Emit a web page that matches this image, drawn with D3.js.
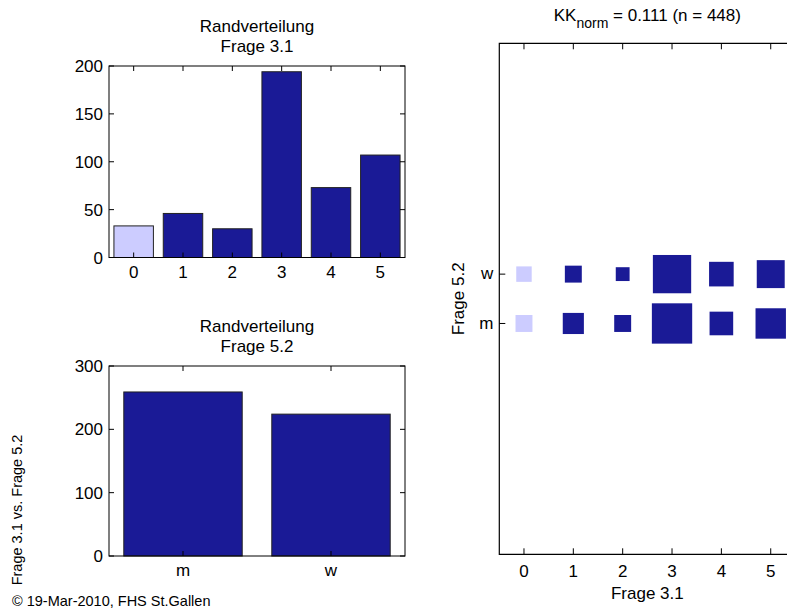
<!DOCTYPE html>
<html>
<head>
<meta charset="utf-8">
<script src="https://cdn.jsdelivr.net/npm/d3@7"></script>
<style>
  html, body { margin: 0; padding: 0; background: #fff; }
  svg { display: block; font-family: "Liberation Sans", Arial, Helvetica, sans-serif; }
</style>
</head>
<body>
<svg id="chart" width="787" height="609"></svg>
<script>
// Frage 3.1 marginal distribution
const q31Cats = ["0", "1", "2", "3", "4", "5"];
const q31Counts = [33, 46, 30, 194, 73, 107];
const q31Ticks = [0, 50, 100, 150, 200];

// Frage 5.2 marginal distribution
const q52Cats = ["m", "w"];
const q52Counts = [259, 224];
const q52Ticks = [0, 100, 200, 300];

// Cross table Frage 3.1 (columns) x Frage 5.2 (rows m, w)
const crossM = [18, 28, 18, 102, 35, 58];
const crossW = [15, 18, 12, 92, 38, 49];

// Category 0 is the missing-answer class, drawn in a light tint
const missingCats = ["0"];

const titleQ31 = ["Randverteilung", "Frage 3.1"];
const titleQ52 = ["Randverteilung", "Frage 5.2"];
const kkValue = "0.111";
const nValue = 448;
const footer = "\u00A9 19-Mar-2010, FHS St.Gallen";
const sideLabel = "Frage 3.1 vs. Frage 5.2";

const DARK = "#1a1a96";
const LIGHT = "#ccccff";
const FS = 17;

const svg = d3.select("#chart");

function boxAxes(g, x, y, xTickVals, yTickVals, xFmt, tick) {
  const [x0, x1] = x.range();
  const [y0, y1] = y.range(); // y0 bottom, y1 top
  g.append("rect")
    .attr("x", x0).attr("y", y1).attr("width", x1 - x0).attr("height", y0 - y1)
    .attr("fill", "none").attr("stroke", "#000").attr("stroke-width", 1);
  // inward ticks on all four sides
  xTickVals.forEach(v => {
    const px = x(v);
    g.append("line").attr("x1", px).attr("x2", px).attr("y1", y0).attr("y2", y0 - tick).attr("stroke", "#000");
    g.append("line").attr("x1", px).attr("x2", px).attr("y1", y1).attr("y2", y1 + tick).attr("stroke", "#000");
  });
  yTickVals.forEach(v => {
    const py = y(v);
    g.append("line").attr("x1", x0).attr("x2", x0 + tick).attr("y1", py).attr("y2", py).attr("stroke", "#000");
    g.append("line").attr("x1", x1).attr("x2", x1 - tick).attr("y1", py).attr("y2", py).attr("stroke", "#000");
  });
  g.selectAll(".ylab").data(yTickVals).join("text")
    .attr("x", x0 - 6).attr("y", d => y(d)).attr("dy", "0.36em")
    .attr("text-anchor", "end").attr("font-size", FS).text(d => d);
  g.selectAll(".xlab").data(xTickVals).join("text")
    .attr("x", d => x(d)).attr("y", y0 + 20)
    .attr("text-anchor", "middle").attr("font-size", FS).text(xFmt);
}

function barPanel(top, bottom, cats, counts, ticks, title) {
  const g = svg.append("g");
  const idx = cats.map((c, i) => i + 1);
  const x = d3.scaleLinear().domain([0.5, cats.length + 0.5]).range([109, 405]);
  const y = d3.scaleLinear().domain([0, ticks[ticks.length - 1]]).range([bottom, top]);
  const unit = x(1) - x(0);
  g.selectAll("rect.bar").data(counts).join("rect")
    .attr("class", "bar")
    .attr("x", (d, i) => x(idx[i]) - 0.4 * unit)
    .attr("width", 0.8 * unit)
    .attr("y", d => y(d))
    .attr("height", d => y(0) - y(d))
    .attr("fill", (d, i) => missingCats.includes(cats[i]) ? LIGHT : DARK)
    .attr("stroke", "#222").attr("stroke-width", 1);
  boxAxes(g, x, y, idx, ticks, d => cats[d - 1], 5);
  g.append("text").attr("x", 257).attr("y", top - 34).attr("text-anchor", "middle")
    .attr("font-size", FS).text(title[0]);
  g.append("text").attr("x", 257).attr("y", top - 14).attr("text-anchor", "middle")
    .attr("font-size", FS).text(title[1]);
}

barPanel(66, 257.5, q31Cats, q31Counts, q31Ticks, titleQ31);
barPanel(366, 556, q52Cats, q52Counts, q52Ticks, titleQ52);

// Cross table as area-proportional squares
(function () {
  const g = svg.append("g");
  const left = 499.3, top = 43.3, bottom = 554.3;
  const x = d3.scaleLinear().domain([-0.5, 5.5]).range([left, left + 6 * 49.35]);
  const unit = x(1) - x(0);
  const halfSpan = (bottom - top) / unit / 2;
  const y = d3.scaleLinear().domain([1.5 - halfSpan, 1.5 + halfSpan]).range([bottom, top]);
  const rows = [{ key: "m", pos: 1, vals: crossM }, { key: "w", pos: 2, vals: crossW }];
  const maxCount = d3.max(rows.flatMap(r => r.vals));
  const side = d3.scaleSqrt().domain([0, maxCount]).range([0, 0.817 * unit]);
  const cells = rows.flatMap(r => r.vals.map((v, i) => ({ cat: q31Cats[i], col: +q31Cats[i], row: r.pos, v })));
  g.selectAll("rect.cell").data(cells).join("rect")
    .attr("class", "cell")
    .attr("x", d => x(d.col) - side(d.v) / 2)
    .attr("y", d => y(d.row) - side(d.v) / 2)
    .attr("width", d => side(d.v))
    .attr("height", d => side(d.v))
    .attr("fill", d => missingCats.includes(d.cat) ? LIGHT : DARK);

  const xr = x.range();
  const right = xr[1];
  // frame: left, top, bottom (right edge lies beyond the page)
  g.append("path")
    .attr("d", `M${right},${top}H${left}V${bottom}H${right}`)
    .attr("fill", "none").attr("stroke", "#000").attr("stroke-width", 1.2);
  q31Cats.forEach(c => {
    const px = x(+c);
    g.append("line").attr("x1", px).attr("x2", px).attr("y1", bottom).attr("y2", bottom - 6).attr("stroke", "#000");
    g.append("line").attr("x1", px).attr("x2", px).attr("y1", top).attr("y2", top + 6).attr("stroke", "#000");
    g.append("text").attr("x", px).attr("y", bottom + 23).attr("text-anchor", "middle")
      .attr("font-size", FS).text(c);
  });
  rows.forEach(r => {
    const py = y(r.pos);
    g.append("line").attr("x1", left).attr("x2", left + 6).attr("y1", py).attr("y2", py).attr("stroke", "#000");
    g.append("text").attr("x", left - 6).attr("y", py).attr("dy", "0.3em").attr("text-anchor", "end")
      .attr("font-size", FS).text(r.key);
  });
  const cx = (left + right) / 2;
  g.append("text").attr("x", cx).attr("y", 599).attr("text-anchor", "middle")
    .attr("font-size", FS).text("Frage 3.1");
  g.append("text").attr("transform", `translate(464,${(y(1) + y(2)) / 2}) rotate(-90)`)
    .attr("text-anchor", "middle").attr("font-size", FS).text("Frage 5.2");
  const t = g.append("text").attr("x", cx).attr("y", 21).attr("text-anchor", "middle").attr("font-size", FS);
  t.append("tspan").text("KK");
  t.append("tspan").attr("dy", 7).attr("font-size", 14).text("norm");
  t.append("tspan").attr("dy", -7).text(` = ${kkValue} (n = ${nValue})`);
})();

svg.append("text").attr("transform", "translate(22,510) rotate(-90)")
  .attr("text-anchor", "middle").attr("font-size", 14.5).text(sideLabel);
svg.append("text").attr("x", 12).attr("y", 606).attr("font-size", 14.5).text(footer);
</script>
</body>
</html>
